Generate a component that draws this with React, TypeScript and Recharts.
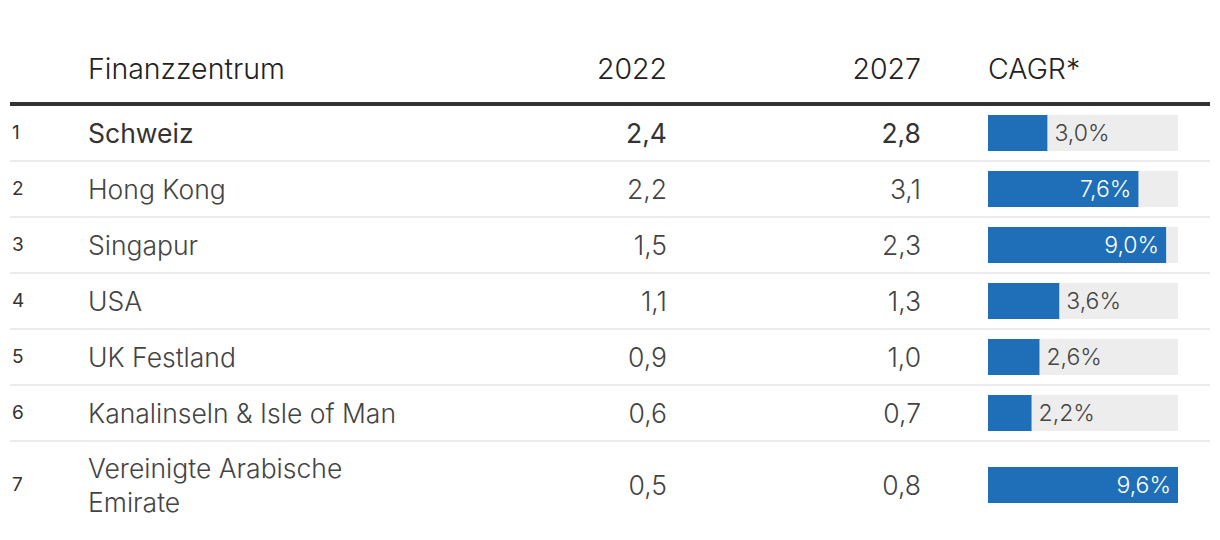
import React from "react";
import { BarChart, Bar, XAxis, YAxis, LabelList } from "recharts";

const headers = ["", "Finanzzentrum", "2022", "2027", "CAGR*"];
const ranks = [1, 2, 3, 4, 5, 6, 7];
const centres = [
  "Schweiz",
  "Hong Kong",
  "Singapur",
  "USA",
  "UK Festland",
  "Kanalinseln & Isle of Man",
  "Vereinigte Arabische Emirate",
];
const values2022 = [2.4, 2.2, 1.5, 1.1, 0.9, 0.6, 0.5];
const values2027 = [2.8, 3.1, 2.3, 1.3, 1.0, 0.7, 0.8];
const cagr = [3.0, 7.6, 9.0, 3.6, 2.6, 2.2, 9.6];

const BLUE = "#1f6fb8";
const TRACK = "#ededed";
const FONT = "Inter, Roboto, 'Noto Sans', sans-serif";
const COLS = [78, 330, 249, 254, 67, 222];

const fmt = (v: number) => v.toFixed(1).replace(".", ",");
const maxCagr = Math.max(...cagr);

function CagrLabel(props: any) {
  const { x, y, width, height, value } = props;
  const inside = width > 80;
  return (
    <text
      x={inside ? x + width - 7 : x + width + 7}
      y={y + height / 2}
      dy="0.36em"
      textAnchor={inside ? "end" : "start"}
      fill={inside ? "#fff" : "#444"}
      fontSize={23}
      fontWeight={300}
      fontFamily={FONT}
    >
      {fmt(value)}%
    </text>
  );
}

function CagrBar({ name, value }: { name: string; value: number }) {
  return (
    <BarChart
      width={222}
      height={40}
      layout="vertical"
      data={[{ name, value }]}
      margin={{ top: 0, right: 32, bottom: 0, left: 0 }}
      barCategoryGap={0}
    >
      <XAxis type="number" domain={[0, maxCagr]} hide />
      <YAxis type="category" dataKey="name" hide />
      <Bar
        dataKey="value"
        fill={BLUE}
        background={{ fill: TRACK }}
        barSize={40}
        isAnimationActive={false}
      >
        <LabelList dataKey="value" content={CagrLabel} />
      </Bar>
    </BarChart>
  );
}

export default function App() {
  const cell = (i: number, extra: React.CSSProperties = {}): React.CSSProperties => ({
    width: COLS[i],
    flex: "none",
    boxSizing: "border-box",
    ...extra,
  });

  return (
    <div
      style={{
        position: "absolute",
        left: 0,
        top: 0,
        width: 1220,
        height: 540,
        background: "#fff",
        fontFamily: FONT,
      }}
    >
      <div
        style={{
          position: "absolute",
          left: 10,
          top: 35,
          width: 1200,
          height: 67,
          display: "flex",
          alignItems: "center",
          borderBottom: "4px solid #333",
          fontSize: 28.5,
          fontWeight: 300,
          color: "#222",
        }}
      >
        <div style={cell(0)}>{headers[0]}</div>
        <div style={cell(1)}>{headers[1]}</div>
        <div style={cell(2, { textAlign: "right" })}>{headers[2]}</div>
        <div style={cell(3, { textAlign: "right" })}>{headers[3]}</div>
        <div style={cell(4)} />
        <div style={cell(5)}>{headers[4]}</div>
      </div>
      <div style={{ position: "absolute", left: 10, top: 106, width: 1200 }}>
        {centres.map((name, i) => {
          const first = i === 0;
          const textStyle = {
            color: first ? "#333" : "#444",
            fontWeight: first ? 400 : 300,
            fontSize: 26.5,
          };
          return (
            <div
              key={name}
              style={{
                display: "flex",
                alignItems: "center",
                minHeight: 54,
                lineHeight: "34px",
                borderBottom: i < centres.length - 1 ? "2px solid #ebebeb" : "none",
              }}
            >
              <div style={cell(0, { paddingLeft: 2, fontSize: 19, color: "#333" })}>
                {ranks[i]}
              </div>
              <div style={cell(1, { ...textStyle, padding: "9px 0" })}>{name}</div>
              <div style={cell(2, { ...textStyle, textAlign: "right" })}>
                {fmt(values2022[i])}
              </div>
              <div style={cell(3, { ...textStyle, textAlign: "right" })}>
                {fmt(values2027[i])}
              </div>
              <div style={cell(4)} />
              <div style={cell(5, { height: 40, lineHeight: 0 })}>
                <CagrBar name={name} value={cagr[i]} />
              </div>
            </div>
          );
        })}
      </div>
    </div>
  );
}
